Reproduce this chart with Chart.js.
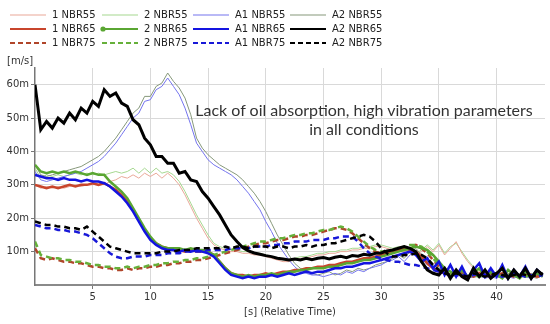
<!DOCTYPE html>
<html><head><meta charset="utf-8">
<script src="https://cdn.jsdelivr.net/npm/chart.js@4.4.1/dist/chart.umd.min.js"></script>
<style>
html,body{margin:0;padding:0;background:#fff;}
#wrap{position:relative;width:550px;height:324px;overflow:hidden;background:#fff;}
#c{position:absolute;left:0;top:0;}
.lgt{position:absolute;font:10px "DejaVu Sans",sans-serif;color:#222;white-space:nowrap;line-height:12px;}
.lgs{position:absolute;}
#ylab{position:absolute;left:7px;top:55px;font:10px "DejaVu Sans",sans-serif;color:#333;}
#note{position:absolute;left:164px;top:100px;width:400px;text-align:center;font:16px Lato,sans-serif;color:#333;line-height:19px;}
</style></head><body>
<div id="wrap"><canvas id="c" width="550" height="324"></canvas>
<div id="legend"></div>
<div id="ylab">[m/s]</div>
<div id="note">Lack of oil absorption, high vibration parameters<br>in all conditions</div>
</div>
<script>
// ---- data (time in s, velocity in m/s) ----
const times = [0,0.5,1,1.5,2,2.5,3,3.5,4,4.5,
 5,5.5,6,6.5,7,7.5,8,8.5,9,9.5,
 10,10.5,11,11.5,12,12.5,13,13.5,14,14.5,
 15,15.5,16,16.5,17,17.5,18,18.5,19,19.5,
 20,20.5,21,21.5,22,22.5,23,23.5,24,24.5,
 25,25.5,26,26.5,27,27.5,28,28.5,29,29.5,
 30,30.5,31,31.5,32,32.5,33,33.5,34,34.5,
 35,35.5,36,36.5,37,37.5,38,38.5,39,39.5,
 40,40.5,41,41.5,42,42.5,43,43.5,44];

const xTicks = [5,10,15,20,25,30,35,40];
const yTicks = [10,20,30,40,50,60];

const s1_NBR55 = [30,29,29.5,29,29.5,29,29.5,30,29.5,30,
 30,30.5,30,31,31.5,32.5,32,33,32,33.5,
 32.5,33.5,32,33.5,32,30,27,23.5,20,17,
 14,12,11,10.5,10,10,9.5,9.5,9,9,
 8.5,8,7.5,7,7,7.5,8,8,8.5,9,
 9,9.5,9.5,10,10,10.5,10.5,11,11,11.5,
 11.5,11,10.5,11,10,9.5,9,10,11.5,10,
 12,9,11,13,9.5,7,5,4,3.5,3,
 3,3.5,3,2.5,3,3.5,3,2.5,3];
const s2_NBR55 = [35,32,33,32.5,33,32.5,33,33.5,33,33.5,
 33,33.5,33,33.5,34,33.5,34,35,33.5,35,
 33.5,35,33.5,34,33,31,28,24.5,21,18,
 15,12.5,11.5,11,10.5,10.5,10,10,9.5,9.5,
 9,8.5,8,7.5,7.5,8,8.5,8.5,9,9.5,
 9.5,10,10,10.5,10.5,11,11,11.5,11.5,12,
 12,11.5,11,11.5,10.5,10,9.5,10.5,12,10.5,
 12.5,9.5,11.5,12.5,10,7.5,5.5,4.5,3.5,3,
 3.5,3,3,3.5,2.5,3,3.5,3,2.5];
const sA1_NBR55 = [34,31.5,31,31.5,32,32.5,33,33.5,34,35,
 36,37,38.5,40.5,42.5,45,47.5,50,51.5,55,
 55.5,58.5,59.5,62,59.5,57,53,48,42.5,40,
 37.5,36,35,34,33,31.5,29.5,27.5,25,22.5,
 19,16,12.5,10,7.5,5.5,4,3.5,3,3,
 2.5,3,3.5,3,4,3.5,4.5,4,5,5.5,
 6,7,7.5,8.5,7,9,10,8,6,5,
 4.5,3.5,3,2.5,3,2,2.5,3,2,2.5,
 2,3,2.5,2,3,2.5,2,3,2.5];
const sA2_NBR55 = [36,33,32.5,33,33.5,34,34.5,35,35.5,36.5,
 37.5,38.5,40,42,44,46.5,49,51.5,53,56.5,
 56.5,59.5,60.5,63.5,61,59,56,51,44,41,
 39,37.5,36,35,34,33,31.5,29.5,27.5,25,
 22,18.5,15,12,9,6.5,5,4,3.5,3,
 3.5,4,3,3.5,4.5,4,5,4.5,5,6,
 6.5,7,8,9,8,10,11,9,7,6,
 5,4,3,3.5,2.5,3,2.5,3,2.5,2,
 3,2.5,2,3,2.5,3,2.5,2,3];

const s1_NBR65 = [30,29.5,29,29.5,29,29.5,30,29.5,30,30,
 30.5,30,30.5,29.5,28.5,27,25,22.5,19.5,16.5,
 14,12.5,11.5,11,10.5,10.5,10,10.5,10,10,
 10,9,7,5,3.5,3,3,2.5,3,3,
 3.5,3,3.5,4,4,4.5,4.5,5,5,5.5,
 5.5,6,6,6.5,7,7,7.5,8,8,8.5,
 9,9.5,10,10.5,11,10.5,10,8.5,6.5,5,
 4,3.5,3,3.5,3,2.5,3,3.5,3,2.5,
 3,2.5,3,3.5,2.5,3,3,2.5,3];
const s2_NBR65 = [36,34,33.5,34,33.5,34,33.5,34,33.5,33,
 33.5,33,33,31,29.5,28,26,23,20,17,
 14.5,12.5,11.5,11,11,11,10.5,11,10.5,10.5,
 10,9,7,5,3.5,3,2.5,3,2.5,3,
 3,3.5,3,3.5,4,4,4.5,4.5,5,5,
 5,5.5,5.5,6,6.5,6.5,7,7.5,7.5,8,
 8.5,9,9.5,10,10.5,11,11.5,11,10.5,9,
 7,5,4,3,4.5,2.5,3.5,5,2.5,4,
 3,2,4.5,3,2,4,2.5,3.5,2.5];
const sA1_NBR65 = [33,32.5,32,32,31.5,32,31.5,31.5,31,31.5,
 31,31,30.5,29.5,28,26.5,24.5,22,19,16,
 13.5,12,11,10.5,10.5,10,10.5,10,10.5,10,
 9.5,8.5,6.5,4.5,3,2.5,2,2.5,2,2.5,
 2.5,3,2.5,3,3.5,3,3.5,4,3.5,4,
 4,4.5,5,5,5.5,5.5,6,6.5,6.5,7,
 7.5,8,8.5,9,9.5,10,9,7,8,5,
 7,3,6,2.5,5.5,2,4.5,6.5,2.5,5,
 2.5,6,2,4.5,2.5,5.5,2,4.5,3];
const sA2_NBR65 = [60,46.5,49,47,50,48.5,51.5,49.5,53,51.5,
 55,53.5,58.5,56.5,57.5,54.5,53.5,49.5,48,44,
 42,38.5,38.5,36.5,36.5,33.5,34,31.5,31,28,
 26,23.5,21,18,15,13,11.2,10.2,9.6,9.2,
 8.8,8.5,8,7.8,7.5,7.8,7.5,8,7.6,8,
 8.2,7.8,8.3,8.6,8.2,8.8,8.6,9.2,8.9,9.5,
 9.6,10.2,10.5,11,11.5,11,10,7,4.5,3.5,
 3,5,2,4.5,2.5,1.5,5,2.5,4.5,2,
 3.5,5,2,4.5,2.5,5,2,4.5,3];

const s1_NBR75 = [11,8,7.5,8,7.5,7,7,6.5,6.5,6,
 5.5,5.5,5,5,4.5,4.5,5,4.5,5,5,
 5.5,5.5,6,6,6.5,6.5,7,7,7.5,7.5,
 8,8.5,9,9.5,10,10.5,11,11.5,12,12.5,
 12.5,13,13.5,13.5,14,14.5,14.5,15,15,15.5,
 16,16.5,17,17,16.5,15.5,14,12.5,11,10,
 9.5,9.5,10,10.5,11,11.5,12,11,9.5,7.5,
 5.5,4,3.5,3,3.5,3,2.5,3,3.5,3,
 3,3.5,3,2.5,3,3.5,3,2.5,3];
const s2_NBR75 = [13,9,8.5,8,8,7.5,7.5,7,7,6.5,
 6,6,5.5,5.5,5,5,5.5,5,5.5,5.5,
 6,6,6.5,6.5,7,7,7.5,7.5,8,8,
 8.5,9,9.5,10,10.5,11,11.5,12,12.5,13,
 13,13.5,14,14,14.5,15,15,15.5,15.5,16,
 16.5,16.5,17,17.5,17,16,14.5,13,11.5,10.5,
 10,10,10.5,11,11.5,12,12,11.5,10,8,
 6,4,3,3.5,3,2.5,3,2.5,3,3.5,
 3,2.5,3,3.5,3,2.5,3,3.5,3];
const sA1_NBR75 = [18,17.5,17,17,16.5,16.5,16,16,15.5,15,
 14,12.5,11,9.5,8.5,8,8,8.5,8.5,8.5,
 9,9,9,9.5,9.5,9.5,10,10,10,10,
 10.5,10.5,10.5,10.5,11,11,11,11,11.5,11.5,
 11.5,12,12,12.5,12.5,13,13,13,13.5,13.5,
 13.5,14,14,14.5,14.5,14.5,13,11,9.5,8.5,
 8,7.5,7,7,6.5,6,6,5.5,5,4.5,
 4,3.5,3,3.5,3,2.5,3,3.5,3,2.5,
 3,2.5,3,3.5,3,2.5,3,2.5,3];
const sA2_NBR75 = [19,18.5,18,18,17.5,17.5,17,17,16.5,17.5,
 16,14.5,13,11.5,11,10.5,10,9.5,9.5,9.5,
 9.5,9.5,10,10,10,10.5,10.5,10.5,11,11,
 11,11,11,11.5,11,11.5,11.5,11,11.5,11.5,
 11.5,11,11.5,11.5,11,11.5,11.5,12,11.5,12,
 12,12.5,12.5,13,13.5,14,14.5,15,14.5,13,
 11,9.5,8.5,8.5,9,9,9.5,9,8,6,
 4.5,3.5,3,3.5,3,2.5,3.5,3,2.5,3,
 3.5,3,2.5,3,3.5,3,2.5,3,3.5];

// legend order (row-major, 3 rows x 4 columns)
const seriesNames = ['1 NBR55','2 NBR55','A1 NBR55','A2 NBR55',
                     '1 NBR65','2 NBR65','A1 NBR65','A2 NBR65',
                     '1 NBR75','2 NBR75','A1 NBR75','A2 NBR75'];
const seriesValues = [s1_NBR55,s2_NBR55,sA1_NBR55,sA2_NBR55,
                      s1_NBR65,s2_NBR65,sA1_NBR65,sA2_NBR65,
                      s1_NBR75,s2_NBR75,sA1_NBR75,sA2_NBR75];

// ---- styles ----
const styles = [
 {c:'#e9a898', w:1,   d:[],    o:10},
 {c:'#a6d890', w:1,   d:[],    o:11},
 {c:'#7474ee', w:1,   d:[],    o:8},
 {c:'#86987a', w:1,   d:[],    o:9},
 {c:'#c8452c', w:2.5, d:[],    o:6},
 {c:'#5aa632', w:2.5, d:[],    o:4},
 {c:'#1414e0', w:2.5, d:[],    o:2},
 {c:'#000000', w:3,   d:[],    o:0},
 {c:'#b0452a', w:2.5, d:[6,4], o:7},
 {c:'#66b03a', w:2.5, d:[6,4], o:5},
 {c:'#1818d8', w:2.5, d:[6,4], o:3},
 {c:'#000000', w:2.5, d:[6,4], o:1}
];

// ---- HTML legend ----
const colX = [10,102,193,290];
const rowY = [15,29,43];
const lg = document.getElementById('legend');
seriesNames.forEach((n,i)=>{
  const r = Math.floor(i/4), col = i%4, st = styles[i];
  const x = colX[col], y = rowY[r];
  const svg = document.createElementNS('http://www.w3.org/2000/svg','svg');
  svg.setAttribute('width','40'); svg.setAttribute('height','8');
  svg.setAttribute('class','lgs');
  svg.style.left = (x-2)+'px'; svg.style.top = (y-4)+'px';
  const ln = document.createElementNS('http://www.w3.org/2000/svg','line');
  ln.setAttribute('x1','2'); ln.setAttribute('x2','38'); ln.setAttribute('y1','4'); ln.setAttribute('y2','4');
  ln.setAttribute('stroke', st.c);
  ln.setAttribute('stroke-width', st.w===1 ? 1.2 : 2.2);
  if (st.d.length) ln.setAttribute('stroke-dasharray','5,3');
  svg.appendChild(ln);
  if (n === '2 NBR65') {
    const cc = document.createElementNS('http://www.w3.org/2000/svg','circle');
    cc.setAttribute('cx','3'); cc.setAttribute('cy','4'); cc.setAttribute('r','2.6');
    cc.setAttribute('fill', st.c);
    svg.appendChild(cc);
  }
  lg.appendChild(svg);
  const t = document.createElement('div');
  t.className = 'lgt'; t.textContent = n;
  t.style.left = (x+42)+'px'; t.style.top = (y-6)+'px';
  lg.appendChild(t);
});

// ---- chart ----
const datasets = seriesNames.map((n,i)=>({
  label:n,
  data: seriesValues[i].map((v,j)=>({x:times[j], y:v})),
  borderColor: styles[i].c,
  backgroundColor: styles[i].c,
  borderWidth: styles[i].w,
  borderDash: styles[i].d,
  pointRadius:0, tension:0, fill:false,
  order: styles[i].o
}));

const fontTick = {family:'"DejaVu Sans", sans-serif', size:10};
new Chart(document.getElementById('c'), {
  type:'line',
  data:{datasets},
  options:{
    responsive:false, animation:false, devicePixelRatio:1,
    layout:{padding:{top:68,right:5,left:0,bottom:0}},
    plugins:{legend:{display:false}, tooltip:{enabled:false}},
    scales:{
      x:{
        type:'linear', min:0, max:44.2,
        afterFit(s){ s.height = 39; },
        afterBuildTicks(s){ s.ticks = xTicks.map(v=>({value:v})); },
        ticks:{autoSkip:false, maxRotation:0, padding:2, font:fontTick, color:'#333', includeBounds:false,
               callback:(v)=>String(v)},
        grid:{color:'#d9d9d9', tickColor:'#777', tickLength:4, lineWidth:1},
        border:{color:'#8a8a8a', width:2},
        title:{display:true, text:'[s] (Relative Time)', font:fontTick, color:'#333', padding:{top:0,bottom:6}}
      },
      y:{
        min:0, max:65,
        afterFit(s){ s.width = 35; },
        afterBuildTicks(s){ s.ticks = yTicks.map(v=>({value:v})); },
        ticks:{padding:2, font:fontTick, color:'#333', includeBounds:false, callback:(v)=>v+'m'},
        grid:{color:'#d9d9d9', tickColor:'#777', tickLength:4, lineWidth:1},
        border:{color:'#777', width:1.5}
      }
    }
  }
});
</script>
</body></html>
